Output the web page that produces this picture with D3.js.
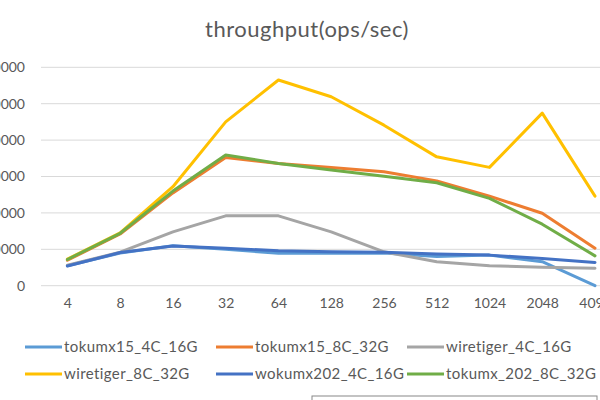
<!DOCTYPE html>
<html>
<head>
<meta charset="utf-8">
<script src="https://cdn.jsdelivr.net/npm/d3@7/dist/d3.min.js"></script>
<style>
  html, body { margin: 0; padding: 0; background: #fff; overflow: hidden; }
  svg { display: block; font-family: Lato, "Open Sans", sans-serif; }
</style>
</head>
<body>
<svg id="chart" width="600" height="400"></svg>
<script>
const categories = ["4", "8", "16", "32", "64", "128", "256", "512", "1024", "2048", "4096"];
const seriesNames = ["tokumx15_4C_16G", "tokumx15_8C_32G", "wiretiger_4C_16G",
                     "wiretiger_8C_32G", "wokumx202_4C_16G", "tokumx_202_8C_32G"];
const seriesColors = ["#5B9BD5", "#ED7D31", "#A5A5A5", "#FFC000", "#4472C4", "#70AD47"];
const tokumx15_4C_16G   = [5500, 9000, 11000, 10000, 8900, 8900, 9000, 8000, 8400, 6600, 0];
const tokumx15_8C_32G   = [7000, 14200, 25500, 35200, 33600, 32500, 31300, 28800, 24600, 19900, 10300];
const wiretiger_4C_16G  = [5600, 9200, 14800, 19200, 19200, 14800, 9300, 6600, 5500, 5100, 4800];
const wiretiger_8C_32G  = [7300, 14500, 27200, 45000, 56500, 51900, 44100, 35400, 32500, 47400, 24600];
const wokumx202_4C_16G  = [5400, 9100, 10900, 10300, 9600, 9300, 9200, 8700, 8400, 7500, 6400];
const tokumx_202_8C_32G = [7200, 14400, 26000, 35900, 33600, 31800, 30100, 28300, 24000, 16900, 8200];
const yTicks = [0, 10000, 20000, 30000, 40000, 50000, 60000];
const title = "throughput(ops/sec)";

const seriesValues = [tokumx15_4C_16G, tokumx15_8C_32G, wiretiger_4C_16G,
                      wiretiger_8C_32G, wokumx202_4C_16G, tokumx_202_8C_32G];

const svg = d3.select("#chart");
const textColor = "#595959";

const x = d3.scalePoint().domain(categories).range([67.4, 595]);
const y = d3.scaleLinear().domain([0, 60000]).range([285.7, 67.3]);

// title
svg.append("text")
  .attr("x", 307).attr("y", 37)
  .attr("text-anchor", "middle")
  .attr("font-size", 22)
  .attr("letter-spacing", 0.5)
  .attr("fill", textColor)
  .text(title);

// gridlines
svg.append("g").selectAll("line").data(yTicks).join("line")
  .attr("x1", 41).attr("x2", 622)
  .attr("y1", d => y(d)).attr("y2", d => y(d))
  .attr("stroke", "#D9D9D9").attr("stroke-width", 1);

// y labels
const yAxis = d3.axisLeft(y).tickValues(yTicks).tickSize(0).tickPadding(0)
  .tickFormat(d3.format("d"));
const yg = svg.append("g").attr("transform", "translate(25,0)").call(yAxis);
yg.select(".domain").remove();
yg.selectAll("text").attr("fill", textColor).attr("font-size", 14)
  .attr("font-family", "Lato, 'Open Sans', sans-serif");

// x labels
const xAxis = d3.axisBottom(x).tickSize(0).tickPadding(0);
const xg = svg.append("g").attr("transform", "translate(0,298)").call(xAxis);
xg.select(".domain").remove();
xg.selectAll("text").attr("fill", textColor).attr("font-size", 14)
  .attr("font-family", "Lato, 'Open Sans', sans-serif");

// lines
const line = d3.line().x((d, i) => x(categories[i])).y(d => y(d));
svg.append("g").selectAll("path").data(seriesValues).join("path")
  .attr("d", d => line(d))
  .attr("fill", "none")
  .attr("stroke", (d, i) => seriesColors[i])
  .attr("stroke-width", 3)
  .attr("stroke-linejoin", "round")
  .attr("stroke-linecap", "round");

// legend
const colX = [25, 216, 407];
const rowY = [347, 374];
const lg = svg.append("g");
seriesNames.forEach((name, i) => {
  const cx = colX[i % 3], cy = rowY[Math.floor(i / 3)];
  lg.append("line")
    .attr("x1", cx).attr("x2", cx + 37)
    .attr("y1", cy).attr("y2", cy)
    .attr("stroke", seriesColors[i]).attr("stroke-width", 3);
  lg.append("text")
    .attr("x", cx + 39).attr("y", cy)
    .attr("dy", "0.35em")
    .attr("font-size", 15)
    .attr("letter-spacing", 0.4)
    .attr("fill", textColor)
    .text(name);
});

// box edge at bottom
svg.append("rect")
  .attr("x", 312).attr("y", 396)
  .attr("width", 285).attr("height", 20)
  .attr("fill", "none").attr("stroke", "#888").attr("stroke-width", 1);
</script>
</body>
</html>
